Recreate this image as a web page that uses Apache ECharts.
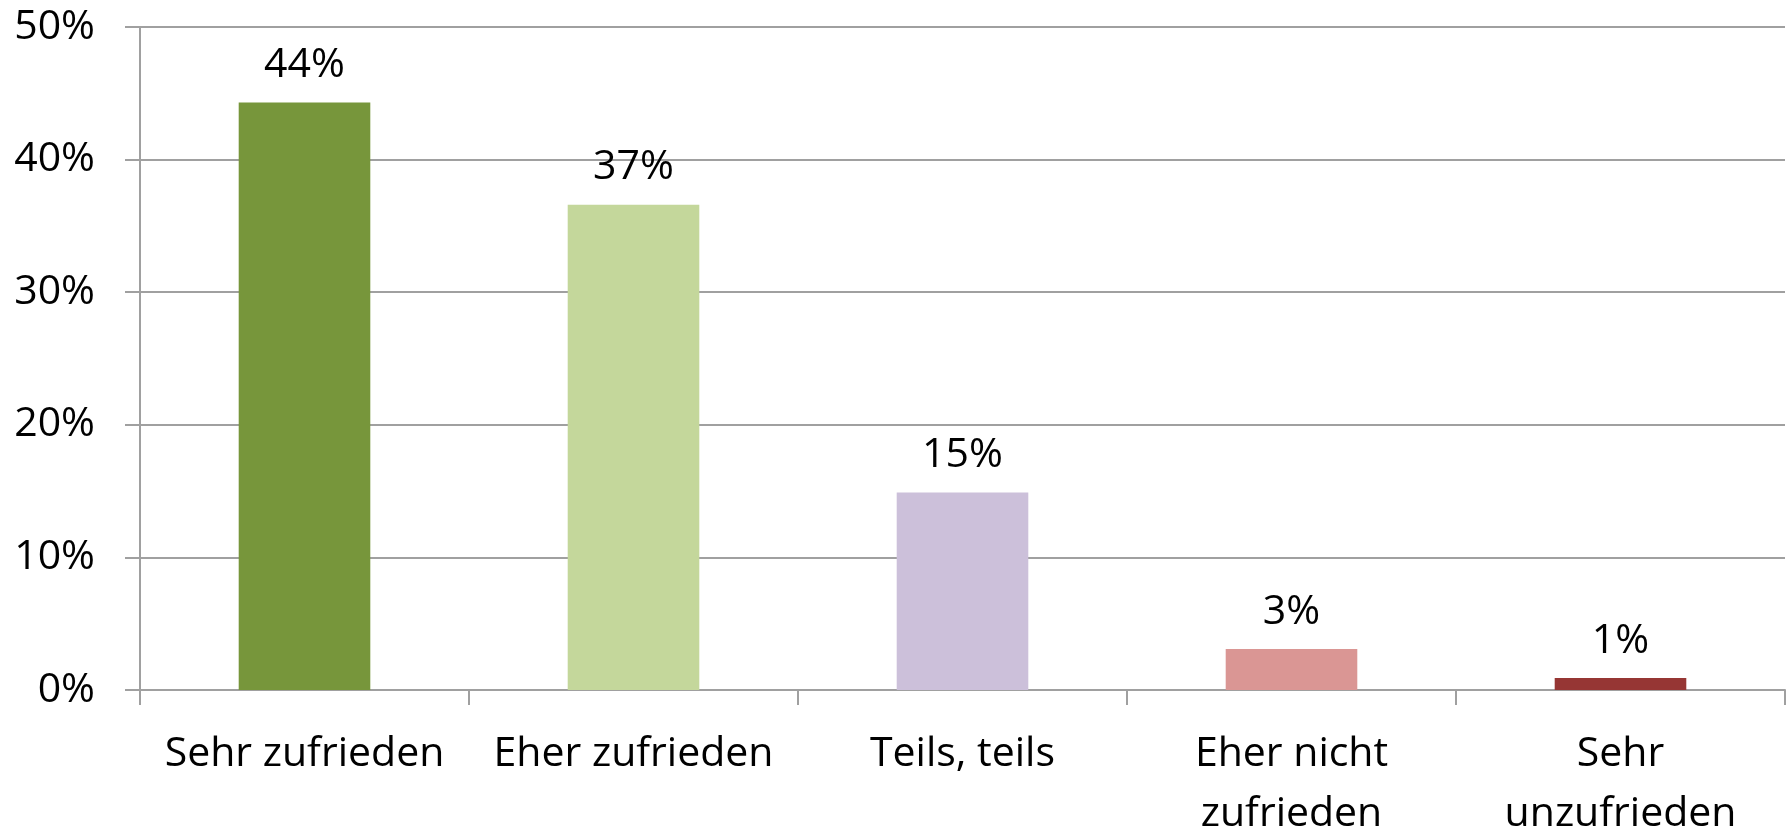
<!DOCTYPE html>
<html>
<head>
<meta charset="utf-8">
<script src="https://cdn.jsdelivr.net/npm/echarts@6/dist/echarts.min.js"></script>
<style>
  html, body { margin: 0; padding: 0; background: #fff; }
  #chart { width: 1788px; height: 831px; }
</style>
</head>
<body>
<div id="chart"></div>
<script>
  // Zufriedenheit (Anteile in %)
  const categories = ['Sehr zufrieden', 'Eher zufrieden', 'Teils, teils', 'Eher nicht\nzufrieden', 'Sehr\nunzufrieden'];
  const values = [44.3, 36.6, 14.9, 3.1, 0.9];
  const barColors = ['#77963b', '#c4d79b', '#ccc0da', '#da9694', '#963634'];
  const yTicks = [0, 10, 20, 30, 40, 50];

  const font = '"Open Sans", "DejaVu Sans", sans-serif';
  const gray = '#a0a0a0';

  const chart = echarts.init(document.getElementById('chart'));
  const option = {
    animation: false,
    grid: {
      left: 140,
      right: 3,
      top: 27,
      bottom: 141,
      outerBoundsMode: 'none',
      containLabel: false
    },
    xAxis: {
      type: 'category',
      data: categories,
      axisLine: { lineStyle: { color: gray, width: 2 } },
      axisTick: { show: true, length: 15, lineStyle: { color: gray, width: 2 } },
      axisLabel: {
        color: '#000',
        fontFamily: font,
        fontSize: 41,
        lineHeight: 60,
        margin: 34,
        interval: 0
      }
    },
    yAxis: {
      type: 'value',
      min: yTicks[0],
      max: yTicks[yTicks.length - 1],
      interval: 10,
      axisLine: { show: true, lineStyle: { color: gray, width: 2 } },
      axisTick: { show: true, length: 15, lineStyle: { color: gray, width: 2 } },
      splitLine: { lineStyle: { color: gray, width: 2 } },
      axisLabel: {
        color: '#000',
        fontFamily: font,
        fontSize: 41,
        margin: 45,
        formatter: v => v + '%'
      }
    },
    series: [
      {
        type: 'bar',
        barWidth: '40%',
        data: values.map((v, i) => ({ value: v, itemStyle: { color: barColors[i] } })),
        label: {
          show: true,
          position: 'top',
          distance: 17,
          color: '#000',
          fontFamily: font,
          fontSize: 41,
          lineHeight: 40,
          formatter: p => Math.round(p.value) + '%'
        }
      }
    ]
  };
  chart.setOption(option);
</script>
</body>
</html>
